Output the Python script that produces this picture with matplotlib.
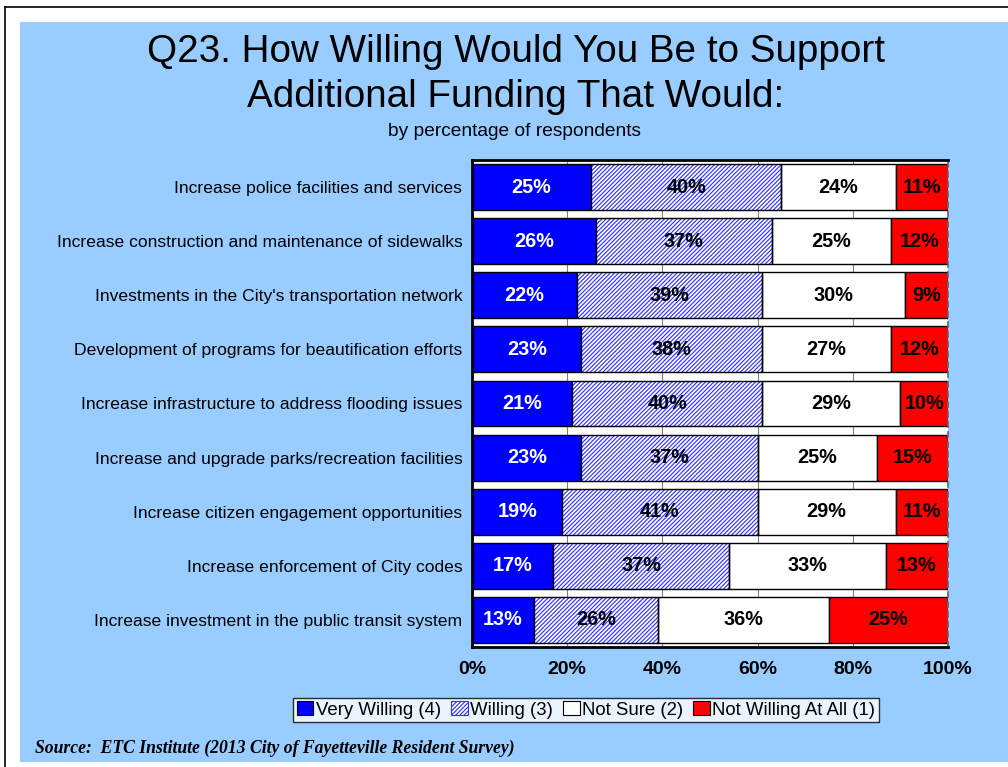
import matplotlib
matplotlib.use("Agg")
import matplotlib.pyplot as plt
from matplotlib.patches import Rectangle, Patch
from matplotlib.lines import Line2D
import numpy as np

categories = [
    "Increase police facilities and services",
    "Increase construction and maintenance of sidewalks",
    "Investments in the City's transportation network",
    "Development of programs for beautification efforts",
    "Increase infrastructure to address flooding issues",
    "Increase and upgrade parks/recreation facilities",
    "Increase citizen engagement opportunities",
    "Increase enforcement of City codes",
    "Increase investment in the public transit system",
]
very_willing = [25, 26, 22, 23, 21, 23, 19, 17, 13]
willing = [40, 37, 39, 38, 40, 37, 41, 37, 26]
not_sure = [24, 25, 30, 27, 29, 25, 29, 33, 36]
not_willing = [11, 12, 9, 12, 10, 15, 11, 13, 25]
series_names = ["Very Willing (4)", "Willing (3)", "Not Sure (2)", "Not Willing At All (1)"]
xticks = [0, 20, 40, 60, 80, 100]
xticklabels = ["0%", "20%", "40%", "60%", "80%", "100%"]

W, H = 1008, 767
fig = plt.figure(figsize=(W / 100, H / 100), dpi=100)
fig.patch.set_facecolor("white")
sans = ["Liberation Sans", "DejaVu Sans"]
plt.rcParams["font.family"] = sans
plt.rcParams["hatch.linewidth"] = 0.85

# background panel and border lines
fig.patches.append(Rectangle((20 / W, 1 - 762 / H), 1 - 20 / W, (762 - 22) / H,
                             transform=fig.transFigure, facecolor="#99CCFF",
                             edgecolor="none", zorder=-10))
fig.lines.append(Line2D([5 / W, 1], [1 - 7 / H, 1 - 7 / H], transform=fig.transFigure,
                        color="black", lw=1.2, zorder=-5))
fig.lines.append(Line2D([5 / W, 5 / W], [0, 1 - 7 / H], transform=fig.transFigure,
                        color="black", lw=1.2, zorder=-5))

ax = fig.add_axes([472 / W, 1 - 647 / H, (948 - 472) / W, (647 - 160) / H])
ax.set_zorder(2)
ax.set_facecolor("white")

y = np.arange(len(categories))
h = 0.85
vw = np.array(very_willing, float)
wi = np.array(willing, float)
ns = np.array(not_sure, float)
nw = np.array(not_willing, float)

ax.barh(y, vw, height=h, color="#0000FF", edgecolor="black", lw=1.0, zorder=2)
ax.barh(y, wi, left=vw, height=h, color="white", edgecolor="#3333FF", lw=0,
        hatch="////////", zorder=2)
ax.barh(y, wi, left=vw, height=h, fill=False, edgecolor="black", lw=1.0, zorder=3)
ax.barh(y, ns, left=vw + wi, height=h, color="white", edgecolor="black", lw=1.0, zorder=2)
ax.barh(y, nw, left=vw + wi + ns, height=h, color="#FF0000", edgecolor="black", lw=1.0,
        zorder=2)

lab_kw = dict(ha="center", va="center", fontsize=14.3, fontweight="bold", zorder=4)
for i in range(len(categories)):
    ax.text(vw[i] / 2, y[i], f"{very_willing[i]}%", color="white", **lab_kw)
    ax.text(vw[i] + wi[i] / 2, y[i], f"{willing[i]}%", color="black", **lab_kw)
    ax.text(vw[i] + wi[i] + ns[i] / 2, y[i], f"{not_sure[i]}%", color="black", **lab_kw)
    ax.text(vw[i] + wi[i] + ns[i] + nw[i] / 2, y[i], f"{not_willing[i]}%", color="black",
            **lab_kw)

ax.set_xlim(0, 100)
ax.set_ylim(len(categories) - 0.5, -0.5)
ax.set_yticks(y)
ax.set_yticklabels(categories, fontsize=12.6)
ax.tick_params(axis="y", length=0, pad=7)
ax.set_xticks(xticks)
ax.set_xticklabels(xticklabels, fontsize=14, fontweight="bold")
ax.tick_params(axis="x", length=0, pad=10)
ax.grid(axis="x", color="#808080", lw=0.8, zorder=1)
ax.set_axisbelow(True)
for s in ["left", "bottom", "top"]:
    ax.spines[s].set_linewidth(2)
    ax.spines[s].set_color("black")
ax.spines["right"].set_linestyle((0, (3, 3)))
ax.spines["right"].set_color("#666666")
ax.spines["right"].set_linewidth(1.2)

# titles
fig.text(516 / W, 1 - 52 / H, "Q23. How Willing Would You Be to Support", ha="center",
         va="center", fontsize=27.8)
fig.text(516 / W, 1 - 97 / H, "Additional Funding That Would:", ha="center",
         va="center", fontsize=27.8)
fig.text(515 / W, 1 - 131 / H, "by percentage of respondents", ha="center", va="center",
         fontsize=13.8)

# legend
handles = [
    Patch(facecolor="#0000FF", edgecolor="black", lw=0.8),
    Patch(facecolor="white", edgecolor="#3333FF", hatch="////////", lw=0.8),
    Patch(facecolor="white", edgecolor="black", lw=0.8),
    Patch(facecolor="#FF0000", edgecolor="black", lw=0.8),
]
leg = fig.legend(handles, series_names, loc="center", bbox_to_anchor=(586 / W, 1 - 710 / H),
                 ncol=4, fontsize=13.4, frameon=True, fancybox=False, handlelength=0.9,
                 handleheight=0.75, handletextpad=0.12, columnspacing=0.55,
                 borderpad=0.2, borderaxespad=0)
leg.get_frame().set_edgecolor("black")
leg.get_frame().set_linewidth(1.0)

fig.text(35 / W, 1 - 748 / H,
         "Source:  ETC Institute (2013 City of Fayetteville Resident Survey)",
         ha="left", va="center", fontsize=12.7, fontweight="bold", fontstyle="italic",
         family=["Liberation Serif", "DejaVu Serif"])

fig.savefig("out.png", dpi=100, facecolor=fig.get_facecolor())
